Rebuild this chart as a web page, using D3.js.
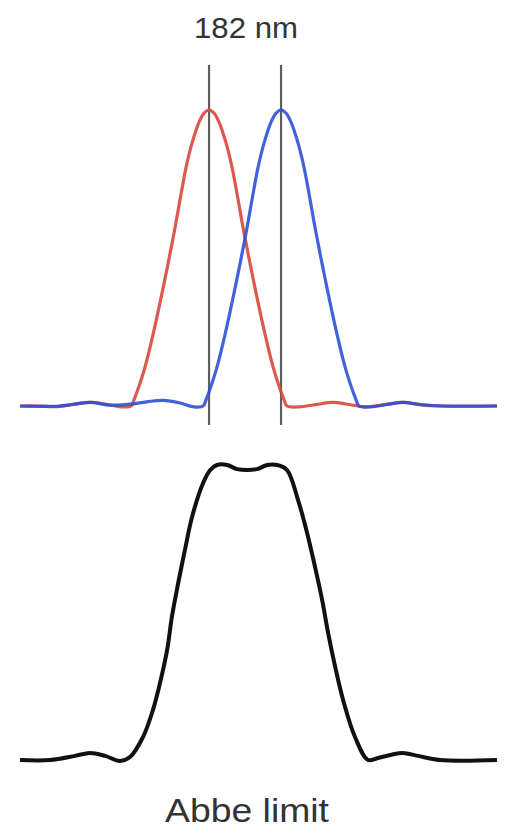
<!DOCTYPE html>
<html>
<head>
<meta charset="utf-8">
<script src="https://cdn.jsdelivr.net/npm/d3@7"></script>
<style>
  body { margin: 0; background: #fff; }
  svg { display: block; }
  text { font-family: "Liberation Sans", Arial, sans-serif; fill: #333; }
</style>
</head>
<body>
<div id="chart"></div>
<script>
// positions in nm, intensities normalised to 1
var peaks = [0, 182];
var topLabel = "182 nm";
var bottomLabel = "Abbe limit";

var redX = [-478, -430, -390, -345, -301, -260, -222, -197, -190, -164, -139, -112, -87, -73, -58, -43, -25, -12, 0, 12,
            25, 43, 58, 73, 87, 112, 139, 164, 190, 197, 228, 270, 313, 355, 394, 445, 490, 535, 590, 728];
var redY = [0, 0, -0.002, 0.005, 0.012, 0.006, -0.003, 0, 0.02, 0.122, 0.257, 0.426, 0.595, 0.70, 0.807, 0.888, 0.96, 0.99, 1, 0.99,
            0.96, 0.888, 0.807, 0.70, 0.595, 0.426, 0.257, 0.122, 0.02, 0, -0.003, 0.005, 0.012, 0.005, -0.003, 0.005, 0.012, 0.004, 0, 0];

var blueX = [-478, -377, -301, -250, -192, -154, -116, -73, -38, -15, -8, 18, 43, 70, 95, 109, 124, 139, 157, 170,
             182, 194, 207, 225, 240, 255, 269, 294, 321, 346, 372, 379, 410, 450, 490, 535, 590, 728];
var blueY = [0, 0, 0.012, 0.003, 0.007, 0.015, 0.019, 0.010, -0.003, 0, 0.02, 0.122, 0.257, 0.426, 0.595, 0.70, 0.807, 0.888, 0.96, 0.99,
             1, 0.99, 0.96, 0.888, 0.807, 0.70, 0.595, 0.426, 0.257, 0.122, 0.02, 0, -0.003, 0.005, 0.012, 0.005, 0, 0];

var sumX = [-478, -402, -339, -301, -263, -225, -200, -167, -142, -124, -106, -94, -78, -61, -43, -15, 3, 20, 46, 71, 96, 121, 147, 172,
            197, 225, 248, 268, 286, 301, 319, 339, 369, 402, 427, 458, 490, 528, 584, 728];
var sumY = [0, 0, 0.014, 0.024, 0.014, -0.003, 0.010, 0.078, 0.169, 0.261, 0.373, 0.485, 0.600, 0.712, 0.824, 0.939, 0.983, 1, 1, 0.986, 0.983, 0.986, 1, 1,
            0.983, 0.881, 0.769, 0.654, 0.542, 0.431, 0.315, 0.203, 0.078, 0, 0.007, 0.017, 0.024, 0.014, 0, 0];

var W = 512, H = 834;
var svg = d3.select("#chart").append("svg").attr("width", W).attr("height", H);

var x = d3.scaleLinear().domain([-478, 728]).range([20, 497]);
var yTop = d3.scaleLinear().domain([0, 1]).range([406, 110]);
var yBot = d3.scaleLinear().domain([0, 1]).range([760, 465]);

function zipXY(xs, ys){
  return xs.map(function(v, i){ return {x: v, y: ys[i]}; });
}

function lineFor(yScale){
  return d3.line()
    .x(function(d){ return x(d.x); })
    .y(function(d){ return yScale(d.y); })
    .curve(d3.curveCatmullRom.alpha(0.5));
}

// peak markers
svg.selectAll("line.peak").data(peaks).enter().append("line")
  .attr("class", "peak")
  .attr("x1", function(d){ return x(d); })
  .attr("x2", function(d){ return x(d); })
  .attr("y1", yTop(1.152))
  .attr("y2", yTop(-0.064))
  .style("stroke", "#5e5e5e")
  .style("stroke-width", "2.2px");

svg.append("path")
  .attr("d", lineFor(yTop)(zipXY(redX, redY)))
  .style("fill", "none")
  .style("stroke", "#d9463b")
  .style("stroke-opacity", 0.9)
  .style("stroke-width", "3.2px");

svg.append("path")
  .attr("d", lineFor(yTop)(zipXY(blueX, blueY)))
  .style("fill", "none")
  .style("stroke", "#2d50d6")
  .style("stroke-opacity", 0.9)
  .style("stroke-width", "3.2px");

svg.append("path")
  .attr("d", lineFor(yBot)(zipXY(sumX, sumY)))
  .style("fill", "none")
  .style("stroke", "#111")
  .style("stroke-width", "4px");

svg.append("text")
  .attr("x", 246).attr("y", 38)
  .attr("text-anchor", "middle")
  .attr("font-size", 30)
  .attr("textLength", 104)
  .attr("lengthAdjust", "spacingAndGlyphs")
  .text(topLabel);

svg.append("text")
  .attr("x", 247).attr("y", 822)
  .attr("text-anchor", "middle")
  .attr("font-size", 33)
  .attr("textLength", 164)
  .attr("lengthAdjust", "spacingAndGlyphs")
  .text(bottomLabel);
</script>
</body>
</html>
